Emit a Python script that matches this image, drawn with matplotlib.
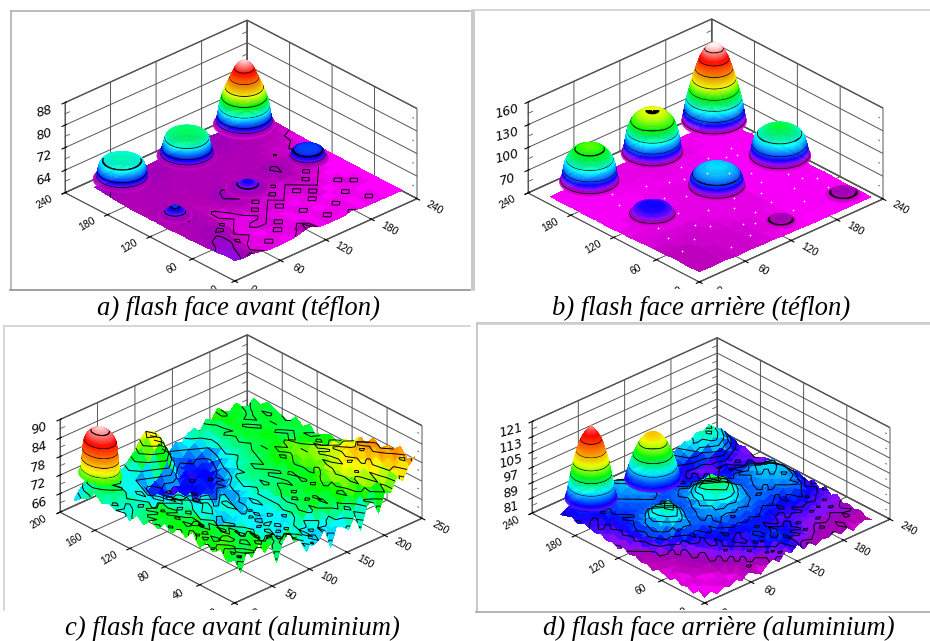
import numpy as np
import matplotlib.pyplot as plt
from matplotlib.colors import LinearSegmentedColormap, Normalize
from matplotlib.lines import Line2D
from mpl_toolkits.mplot3d import proj3d
from mpl_toolkits.mplot3d.art3d import Poly3DCollection

W, H = 930, 641

titles = ["a) flash face avant (téflon)", "b) flash face arrière (téflon)",
          "c) flash face avant (aluminium)", "d) flash face arrière (aluminium)"]

# floor of each map, rows go with y, columns with x
a_x = list(range(0, 221, 11))
a_y = list(range(0, 199, 11))
a_z = [
    [63.2, 62.8, 63.0, 62.4, 61.7, 61.6, 61.6, 61.8, 62.6, 63.2, 61.8, 61.6, 61.6, 61.5, 62.4, 61.6, 61.5, 61.5, 61.5, 61.4, 61.4],
    [63.4, 63.0, 62.6, 61.8, 61.6, 62.4, 61.6, 61.6, 61.7, 62.9, 61.7, 61.6, 62.4, 61.6, 61.5, 61.5, 61.6, 62.4, 61.5, 61.5, 61.4],
    [63.0, 63.3, 62.7, 62.2, 61.6, 61.6, 61.7, 62.4, 61.6, 61.6, 61.6, 61.5, 61.6, 61.6, 62.4, 61.5, 61.6, 61.5, 61.5, 61.4, 61.4],
    [62.8, 63.0, 63.2, 61.8, 62.4, 61.6, 61.6, 61.6, 62.4, 61.6, 61.6, 62.4, 61.6, 61.5, 61.6, 61.5, 62.4, 61.6, 61.5, 61.5, 61.4],
    [62.6, 62.9, 63.0, 62.5, 61.7, 61.6, 62.4, 62.4, 61.6, 61.7, 61.6, 61.6, 61.6, 62.4, 61.6, 61.6, 61.5, 61.6, 62.4, 61.5, 61.4],
    [62.5, 62.7, 62.8, 63.1, 62.4, 61.6, 61.6, 61.7, 62.4, 61.6, 62.4, 61.6, 61.7, 61.6, 62.4, 61.6, 61.6, 62.4, 61.5, 61.5, 61.4],
    [62.4, 62.6, 62.9, 62.7, 61.8, 62.4, 61.6, 62.4, 61.7, 62.4, 61.6, 62.4, 61.6, 62.4, 61.6, 62.4, 61.6, 61.5, 61.6, 61.5, 61.5],
    [62.4, 62.3, 62.7, 62.4, 62.5, 61.7, 62.0, 62.4, 62.4, 61.7, 62.4, 61.7, 62.4, 61.6, 62.4, 61.7, 62.4, 61.6, 61.5, 61.6, 61.5],
    [62.3, 62.5, 62.9, 62.6, 62.4, 61.8, 62.4, 62.5, 62.9, 62.4, 62.4, 62.5, 61.8, 62.4, 62.5, 62.4, 61.7, 62.4, 61.6, 61.5, 61.5],
    [62.2, 62.7, 63.2, 62.8, 62.4, 62.4, 62.6, 62.9, 63.1, 62.7, 62.4, 62.4, 62.5, 62.4, 62.9, 62.4, 62.4, 61.8, 62.4, 61.6, 61.5],
    [62.4, 63.0, 63.4, 62.6, 62.5, 62.0, 62.5, 62.8, 63.0, 62.5, 62.6, 62.4, 62.5, 62.7, 63.1, 62.6, 62.4, 62.4, 61.7, 61.8, 61.6],
    [62.3, 62.7, 62.8, 62.4, 62.4, 62.5, 62.4, 62.5, 62.6, 62.4, 62.5, 62.6, 62.4, 62.5, 62.6, 62.4, 62.5, 61.8, 62.4, 61.6, 61.6],
    [62.4, 62.3, 62.5, 62.5, 62.4, 62.5, 62.6, 62.4, 62.5, 62.6, 62.4, 62.5, 62.6, 62.4, 62.5, 62.4, 61.9, 62.4, 61.8, 61.8, 61.7],
    [62.3, 62.5, 62.4, 62.6, 62.5, 62.4, 62.5, 62.6, 62.4, 62.5, 62.6, 62.4, 62.5, 62.4, 62.4, 62.5, 62.4, 62.0, 62.4, 61.9, 61.8],
    [62.5, 62.4, 62.5, 62.4, 62.7, 62.5, 62.4, 62.5, 62.6, 62.5, 62.4, 62.6, 62.4, 62.5, 62.6, 62.4, 62.5, 62.4, 62.3, 62.0, 61.9],
    [62.6, 62.5, 62.6, 62.5, 62.5, 62.7, 62.6, 62.5, 62.6, 62.6, 62.7, 62.5, 62.6, 62.6, 62.7, 62.5, 62.6, 62.4, 62.5, 62.3, 62.1],
    [62.9, 62.6, 62.7, 62.5, 62.6, 62.8, 62.7, 62.6, 62.7, 62.8, 62.6, 62.7, 62.6, 62.8, 62.7, 62.6, 62.5, 62.6, 62.4, 62.5, 62.2],
    [63.2, 62.9, 62.7, 62.6, 62.7, 62.9, 62.8, 62.7, 62.8, 62.7, 62.8, 62.8, 62.7, 62.9, 62.8, 62.7, 62.8, 62.6, 62.7, 62.4, 62.4],
    [63.4, 63.0, 62.8, 62.7, 62.8, 63.0, 62.8, 62.7, 62.9, 62.8, 62.9, 63.0, 62.9, 62.8, 62.9, 62.8, 62.9, 62.7, 62.8, 62.6, 62.5],
]
b_x = list(range(0, 225, 16))
b_y = list(range(0, 215, 16))
b_z = [
    [54, 53, 54, 52, 53, 52, 52, 51, 51, 50, 50, 50, 50, 50, 50],
    [53, 54, 53, 53, 52, 53, 52, 51, 51, 51, 50, 50, 51, 50, 50],
    [54, 53, 54, 52, 53, 52, 52, 52, 51, 50, 51, 51, 50, 51, 50],
    [53, 54, 52, 53, 53, 52, 52, 51, 52, 51, 50, 51, 51, 50, 50],
    [53, 52, 53, 53, 52, 52, 51, 52, 51, 51, 51, 50, 51, 50, 51],
    [52, 52, 52, 51, 52, 51, 52, 51, 52, 51, 50, 51, 50, 51, 50],
    [51, 52, 51, 52, 51, 52, 51, 52, 51, 51, 51, 50, 51, 50, 51],
    [51, 51, 52, 51, 51, 51, 51, 51, 52, 51, 50, 51, 50, 51, 50],
    [50, 51, 51, 51, 51, 51, 52, 51, 51, 51, 51, 50, 51, 50, 50],
    [51, 50, 51, 50, 51, 51, 51, 51, 51, 51, 50, 51, 50, 51, 50],
    [50, 51, 50, 51, 51, 51, 51, 51, 51, 51, 51, 50, 51, 50, 51],
    [51, 50, 51, 51, 51, 51, 51, 52, 51, 51, 51, 51, 50, 51, 50],
    [50, 51, 51, 51, 51, 52, 51, 51, 51, 52, 51, 51, 51, 50, 51],
    [51, 51, 50, 51, 51, 51, 51, 51, 51, 51, 51, 51, 51, 51, 50],
]
c_x = list(range(0, 241, 8))
c_y = list(range(0, 185, 8))
c_z = [
    [74, 69, 75, 73, 76, 72, 74, 67, 73, 75, 71, 74, 66, 70, 68, 71, 64, 70, 69, 67, 71, 65, 72, 73, 68, 74, 73, 77, 75, 79, 81],
    [72, 75, 71, 74, 70, 76, 73, 75, 71, 72, 74, 70, 69, 71, 65, 70, 72, 68, 70, 71, 73, 70, 74, 71, 75, 76, 73, 78, 77, 81, 79],
    [75, 73, 76, 68, 74, 72, 75, 70, 73, 71, 69, 72, 68, 70, 71, 67, 69, 72, 70, 73, 71, 74, 72, 76, 74, 77, 75, 79, 80, 78, 82],
    [73, 76, 72, 75, 73, 70, 74, 72, 69, 71, 70, 67, 71, 69, 72, 70, 73, 71, 74, 72, 73, 75, 73, 77, 75, 78, 76, 80, 78, 82, 80],
    [75, 71, 74, 76, 72, 74, 71, 73, 70, 68, 71, 69, 67, 70, 68, 71, 74, 72, 75, 71, 74, 72, 75, 76, 78, 75, 79, 77, 81, 80, 79],
    [72, 75, 73, 70, 75, 72, 73, 69, 71, 70, 68, 71, 70, 66, 71, 69, 72, 73, 71, 74, 72, 75, 74, 77, 76, 79, 77, 81, 79, 82, 78],
    [76, 73, 75, 72, 74, 71, 72, 70, 72, 68, 70, 67, 69, 71, 68, 70, 73, 71, 74, 72, 75, 73, 76, 75, 78, 76, 80, 78, 82, 79, 80],
    [73, 75, 71, 74, 72, 73, 70, 72, 68, 70, 69, 71, 66, 69, 70, 68, 72, 74, 71, 73, 72, 74, 73, 75, 77, 74, 78, 79, 77, 80, 76],
    [75, 72, 74, 76, 70, 72, 71, 69, 70, 67, 70, 68, 71, 67, 70, 69, 71, 72, 74, 72, 73, 71, 75, 73, 76, 75, 79, 77, 78, 76, 78],
    [72, 74, 73, 71, 74, 69, 72, 70, 66, 69, 68, 70, 67, 69, 71, 68, 72, 70, 73, 71, 74, 72, 74, 76, 74, 77, 75, 78, 76, 77, 75],
    [74, 71, 75, 72, 73, 71, 70, 68, 70, 67, 69, 71, 68, 66, 70, 69, 71, 73, 70, 72, 73, 71, 75, 74, 76, 75, 77, 75, 76, 74, 75],
    [71, 74, 72, 74, 70, 73, 71, 69, 72, 70, 68, 71, 69, 67, 69, 70, 68, 72, 71, 73, 71, 74, 73, 75, 76, 74, 76, 75, 73, 75, 73],
    [73, 72, 75, 71, 73, 70, 72, 70, 68, 71, 69, 67, 70, 68, 66, 69, 71, 70, 72, 71, 73, 72, 75, 73, 76, 74, 75, 73, 75, 72, 74],
    [70, 73, 71, 74, 72, 71, 69, 71, 70, 68, 70, 69, 66, 69, 67, 68, 70, 72, 71, 73, 72, 74, 73, 75, 74, 76, 73, 74, 72, 74, 73],
    [72, 70, 73, 71, 73, 70, 72, 69, 71, 69, 67, 69, 68, 65, 68, 67, 69, 71, 70, 72, 71, 73, 72, 74, 73, 75, 72, 73, 74, 72, 71],
    [69, 72, 70, 72, 69, 71, 68, 70, 71, 68, 69, 66, 64, 66, 65, 67, 66, 68, 70, 71, 70, 72, 73, 72, 74, 72, 73, 71, 73, 72, 74],
    [71, 68, 71, 69, 71, 68, 70, 69, 67, 68, 65, 66, 63, 65, 66, 64, 67, 66, 69, 70, 72, 71, 73, 72, 73, 74, 72, 73, 71, 73, 72],
    [70, 71, 69, 72, 69, 70, 68, 69, 66, 67, 64, 65, 66, 63, 66, 65, 64, 67, 68, 70, 69, 72, 71, 73, 72, 74, 73, 71, 73, 72, 74],
    [71, 69, 72, 70, 68, 71, 69, 67, 65, 66, 63, 65, 64, 66, 64, 66, 65, 63, 66, 69, 71, 70, 73, 72, 74, 72, 73, 74, 72, 73, 71],
    [70, 72, 71, 73, 70, 69, 70, 68, 66, 64, 66, 63, 65, 64, 66, 63, 65, 66, 64, 67, 70, 72, 71, 74, 72, 73, 71, 73, 72, 74, 72],
    [72, 71, 74, 72, 71, 68, 70, 69, 67, 65, 67, 69, 72, 68, 64, 66, 64, 65, 66, 65, 69, 71, 73, 72, 74, 71, 73, 72, 74, 71, 73],
    [69, 73, 72, 74, 70, 71, 69, 70, 68, 70, 72, 75, 77, 74, 70, 66, 65, 67, 66, 67, 68, 71, 70, 73, 72, 74, 72, 71, 73, 72, 74],
    [68, 72, 74, 73, 71, 69, 71, 68, 70, 72, 75, 78, 79, 77, 73, 68, 67, 66, 68, 69, 70, 72, 71, 73, 75, 72, 74, 73, 71, 74, 72],
    [66, 69, 71, 70, 68, 70, 69, 71, 69, 71, 73, 76, 78, 75, 72, 69, 68, 70, 69, 71, 72, 70, 73, 72, 75, 73, 72, 74, 72, 71, 73],
]
d_x = list(range(0, 217, 8))
d_y = list(range(0, 201, 8))
d_z = [
    [76, 78, 75, 77, 76, 78, 76, 79, 77, 75, 78, 80, 77, 81, 79, 82, 78, 80, 77, 79, 78, 80, 77, 79, 76, 78, 79, 77],
    [78, 75, 77, 76, 79, 75, 78, 76, 80, 78, 76, 79, 82, 78, 80, 83, 80, 78, 80, 77, 79, 77, 78, 80, 78, 76, 78, 77],
    [75, 77, 76, 78, 75, 77, 76, 79, 77, 80, 79, 81, 78, 83, 81, 84, 80, 82, 79, 81, 78, 80, 76, 79, 78, 80, 77, 79],
    [77, 76, 78, 75, 78, 77, 79, 77, 80, 78, 82, 79, 84, 81, 85, 82, 83, 80, 82, 78, 80, 78, 81, 79, 77, 79, 80, 78],
    [76, 78, 76, 77, 76, 79, 77, 80, 78, 81, 79, 83, 80, 84, 82, 84, 81, 83, 80, 82, 79, 81, 78, 80, 79, 81, 78, 79],
    [78, 75, 77, 79, 77, 78, 80, 78, 82, 79, 83, 80, 82, 85, 81, 83, 82, 80, 83, 79, 81, 79, 82, 79, 81, 78, 80, 78],
    [76, 78, 76, 78, 79, 77, 79, 81, 79, 83, 81, 79, 83, 81, 84, 82, 80, 82, 79, 82, 80, 82, 79, 81, 78, 82, 79, 81],
    [77, 76, 79, 77, 78, 80, 78, 80, 82, 80, 84, 82, 80, 83, 81, 83, 81, 83, 81, 80, 83, 80, 83, 81, 83, 79, 81, 79],
    [78, 77, 76, 79, 78, 79, 81, 79, 82, 81, 83, 81, 84, 82, 84, 82, 84, 81, 83, 82, 80, 83, 81, 84, 80, 83, 80, 82],
    [76, 79, 78, 77, 80, 78, 81, 83, 80, 84, 82, 85, 83, 86, 83, 85, 83, 85, 82, 84, 81, 84, 82, 85, 83, 81, 83, 79],
    [78, 77, 79, 80, 78, 82, 80, 84, 82, 85, 83, 86, 85, 84, 86, 84, 86, 83, 85, 83, 85, 82, 85, 84, 86, 83, 80, 82],
    [77, 79, 78, 81, 83, 82, 86, 84, 85, 83, 86, 84, 87, 89, 87, 88, 85, 87, 84, 86, 84, 86, 84, 87, 85, 84, 82, 80],
    [79, 78, 80, 82, 84, 87, 85, 88, 86, 84, 85, 87, 86, 89, 91, 90, 89, 86, 85, 83, 86, 84, 87, 85, 88, 86, 83, 81],
    [78, 80, 79, 83, 86, 85, 89, 91, 88, 85, 83, 86, 89, 91, 90, 93, 91, 88, 86, 84, 85, 87, 85, 88, 86, 87, 84, 82],
    [80, 79, 82, 81, 85, 88, 90, 92, 91, 87, 84, 85, 87, 90, 93, 92, 94, 90, 87, 85, 83, 86, 88, 86, 89, 86, 85, 81],
    [78, 81, 80, 83, 84, 87, 91, 90, 92, 88, 85, 83, 86, 91, 92, 95, 92, 91, 86, 84, 85, 84, 86, 89, 87, 88, 84, 82],
    [80, 79, 82, 81, 85, 84, 88, 89, 87, 85, 83, 85, 84, 88, 90, 91, 89, 87, 85, 83, 84, 86, 85, 87, 85, 86, 83, 81],
    [79, 81, 80, 83, 82, 85, 84, 86, 84, 83, 85, 83, 86, 85, 87, 88, 86, 84, 83, 85, 82, 84, 83, 85, 84, 83, 82, 80],
    [81, 79, 82, 81, 84, 82, 85, 83, 85, 84, 82, 85, 84, 86, 84, 85, 83, 85, 82, 81, 83, 81, 84, 82, 83, 81, 80, 81],
    [80, 82, 80, 83, 82, 84, 83, 85, 84, 86, 85, 83, 85, 83, 84, 82, 84, 82, 83, 80, 81, 83, 80, 82, 80, 82, 79, 80],
    [81, 80, 83, 81, 84, 83, 85, 84, 86, 85, 87, 84, 83, 85, 82, 84, 81, 83, 80, 82, 79, 81, 83, 80, 82, 79, 81, 78],
    [82, 81, 80, 84, 82, 85, 84, 86, 85, 87, 86, 85, 84, 82, 84, 81, 83, 80, 82, 79, 81, 80, 78, 81, 79, 81, 80, 79],
    [80, 83, 82, 81, 85, 83, 86, 85, 87, 86, 88, 85, 83, 85, 82, 83, 81, 82, 80, 81, 79, 82, 84, 86, 83, 81, 80, 81],
    [82, 81, 84, 83, 82, 85, 84, 87, 86, 88, 87, 84, 86, 83, 84, 82, 84, 81, 83, 85, 87, 85, 88, 90, 88, 86, 82, 80],
    [81, 83, 82, 85, 84, 83, 86, 85, 88, 87, 85, 86, 84, 85, 83, 85, 83, 85, 84, 86, 88, 90, 89, 92, 90, 88, 85, 82],
    [80, 82, 84, 83, 85, 84, 85, 87, 86, 85, 84, 83, 85, 84, 86, 84, 86, 84, 85, 87, 89, 88, 91, 90, 92, 89, 87, 83],
]

# peaks: centre x, centre y, then radius and height going up the flank
a_peaks = [
    (197, 198, [30, 28, 27, 26, 25, 24, 22.5, 21, 19, 17, 15, 13, 11, 9, 6.5, 3.5, 0],
     [61.8, 62.5, 63.5, 65, 67, 69, 71, 72.5, 74.5, 76, 77.5, 79, 80.5, 82, 83.2, 84, 84.5]),
    (113, 189, [29, 26, 24.5, 23, 22, 20.5, 19, 16, 10, 0],
     [62, 63, 64.5, 66, 67.5, 69, 69.6, 70, 70.2, 70.4]),
    (36, 198, [28, 25, 24, 23, 21.5, 20, 17, 10, 0],
     [62, 63, 64.5, 66, 67.5, 68.2, 68.6, 69, 69.2]),
    (195, 106, [20, 17, 16, 14.5, 10, 0], [62, 63, 64.2, 65, 65.4, 65.6]),
    (112, 102, [22, 16, 10, 5, 0], [62, 62.7, 63.4, 64.2, 65]),
    (24, 110, [17, 12, 8, 4, 0], [62, 62.8, 64, 65, 65.5]),
]
b_peaks = [
    (216, 211, [31, 30, 29, 28, 26.5, 24.5, 22, 19.5, 17, 14, 10.5, 6, 0],
     [50, 56, 63, 70, 80, 90, 102, 113, 123, 134, 143, 150, 152]),
    (129, 204, [30, 28, 27, 26, 25, 23.5, 21.5, 19, 16, 13, 9, 5, 0],
     [51, 56, 63, 70, 78, 85, 92, 97, 101, 104, 106, 107, 107.5]),
    (47, 204, [29, 27, 26, 25, 24, 22, 19.5, 17, 14, 10, 5, 0],
     [51, 56, 63, 70, 76, 82, 87, 91, 94, 96.5, 98, 98.5]),
    (214, 117, [30, 28, 27, 25.5, 24, 21, 17, 12, 6, 0],
     [51, 56, 63, 70, 76, 81, 85, 88, 90, 91]),
    (129, 114, [28, 26, 25, 23, 20, 16, 10, 0],
     [51, 56, 63, 68, 72, 75, 76.5, 77]),
    (46, 115, [23, 21, 18, 12, 0], [51, 55, 60, 62.5, 64]),
    (127, 22, [15, 12, 6, 0], [51, 54, 55.5, 56]),
    (207, 20, [17, 13, 7, 0], [51, 54, 55.5, 56]),
]
c_peaks = [
    (21, 172, [19, 17, 16.5, 16, 15.5, 15, 14, 12, 9, 5, 0],
     [74, 75, 77, 79, 81, 83, 85, 86.5, 87.8, 88.5, 89.5]),
]
d_peaks = [
    (43, 204, [25, 23, 22, 20.5, 19, 17.5, 15.5, 13.5, 11.5, 9, 6, 3, 0],
     [80, 83, 86, 90, 94, 98, 102, 105.5, 109, 112, 114.5, 116.5, 118]),
    (112, 192, [27, 25, 23.5, 21.5, 19.5, 17, 14.5, 12, 9, 5, 0],
     [80, 83, 86, 89, 92, 95, 98, 100, 102, 103.5, 104.5]),
]

b_specks_x = [70, 95, 150, 180, 160, 100, 60, 130, 175, 200, 85, 40, 110, 150, 190, 30, 170, 75, 120, 205,
              15, 55, 90, 140, 165, 195, 25, 80, 105, 145, 185, 210, 65, 125, 155, 35, 95, 170, 45, 115]
b_specks_y = [60, 40, 75, 60, 160, 150, 70, 165, 150, 70, 20, 50, 70, 30, 160, 90, 110, 130, 50, 40,
              40, 15, 85, 140, 90, 85, 70, 160, 35, 55, 145, 60, 100, 85, 125, 150, 120, 35, 170, 145]
b_specks_z = [53, 53, 52, 52, 52, 53, 53, 52, 52, 52, 54, 54, 53, 52, 52, 53, 52, 53, 53, 52,
              54, 54, 52, 52, 52, 52, 53, 52, 53, 52, 52, 52, 53, 52, 52, 52, 52, 52, 52, 52]

a_ticks = [0, 60, 120, 180, 240]
c_xticks = [0, 50, 100, 150, 200, 250]
c_yticks = [0, 40, 80, 120, 160, 200]
a_zticks = [64, 72, 80, 88]
b_zticks = [70, 100, 130, 160]
c_zticks = [66, 72, 78, 84, 90]
d_zticks = [81, 89, 97, 105, 113, 121]

AZIM = -133

rainbow = LinearSegmentedColormap.from_list("rainbow_map", [
    (0, "#ff00ff"), (0.035, "#b400b4"), (0.055, "#a000b8"), (0.08, "#8a10ff"), (0.13, "#0000ff"),
    (0.28, "#00ffff"), (0.43, "#00ff00"), (0.56, "#ffff00"), (0.68, "#ff8c00"),
    (0.85, "#ff0000"), (1, "#ffffff")])

plt.rcParams["grid.color"] = "#555555"
plt.rcParams["grid.linewidth"] = 0.7
plt.rcParams["axes3d.grid"] = True


def to_px(ax, x, y, z):
    x2, y2, _ = proj3d.proj_transform(x, y, z, ax.get_proj())
    return ax.transData.transform((x2, y2))


def place(ax, xmax, ymax, zmin, left, right, front):
    # same box size as the picture, found from where the corners land
    size = 500
    ax.set_position([0, 0, size / W, size / H])
    ax.apply_aspect()
    pl = to_px(ax, 0, ymax, zmin)
    pr = to_px(ax, xmax, 0, zmin)
    pf = to_px(ax, 0, 0, zmin)
    s = (right - left) / (pr[0] - pl[0])
    ox = left - pl[0] * s
    oy = (H - front) - pf[1] * s
    ax.set_position([ox / W, oy / H, size * s / W, size * s / H])
    ax.apply_aspect()


def peaks_to_polys(peaks, norm, levels, thick):
    polys, colors = [], []
    angles = np.arange(0, 361, 6)
    for cx, cy, r, z in peaks:
        lines = list(z)
        for lev in levels:
            if z[0] < lev < z[-1]:
                lines += [lev - thick / 2, lev + thick / 2]
        lines += list(np.arange(z[0], z[-1], (norm.vmax - norm.vmin) / 80))
        lines = np.array(sorted(set(lines)))
        radii = np.interp(lines, z, r)
        for i in range(len(lines) - 1):
            mid = (lines[i] + lines[i + 1]) / 2
            black = any(abs(mid - lev) < thick / 2 for lev in levels)
            for j in range(len(angles) - 1):
                t0, t1 = np.radians(angles[j]), np.radians(angles[j + 1])
                # contour only on the side that faces the viewer
                off = abs((angles[j] + 3 - AZIM + 180) % 360 - 180)
                col = (0, 0, 0, 1) if black and off < 105 else rainbow(norm(mid))
                polys.append([
                    (cx + radii[i] * np.cos(t0), cy + radii[i] * np.sin(t0), lines[i]),
                    (cx + radii[i] * np.cos(t1), cy + radii[i] * np.sin(t1), lines[i]),
                    (cx + radii[i + 1] * np.cos(t1), cy + radii[i + 1] * np.sin(t1), lines[i + 1]),
                    (cx + radii[i + 1] * np.cos(t0), cy + radii[i + 1] * np.sin(t0), lines[i + 1]),
                ])
                colors.append(col)
    return polys, colors


def minor_ticks(ax, xlim, ylim, zticks):
    # short inward marks half way between the z ticks, on the three standing edges
    step = zticks[1] - zticks[0]
    half = [t - step / 2 for t in zticks]
    dx = xlim[1] * 0.025
    dy = ylim[1] * 0.025
    for t in half:
        ax.plot([0, dx], [ylim[1], ylim[1]], [t, t], color="#555555", linewidth=0.6, zorder=0.5)
        ax.plot([xlim[1], xlim[1]], [0, dy], [t, t], color="#555555", linewidth=0.6, zorder=0.5)
        ax.plot([xlim[1], xlim[1] - dx], [ylim[1], ylim[1]], [t, t], color="#555555", linewidth=0.6, zorder=0.5)


def tick_label(ax, x, y, z, s, rot, size, style, family, clip_y):
    px, py = to_px(ax, x, y, z)
    lab = fig.text(px / W, py / H, s, rotation=rot, rotation_mode="anchor", ha="center", va="center",
                   fontsize=size, style=style, family=family, clip_on=True)
    lab.set_clip_box(fig.bbox)
    if py > H - clip_y:
        return lab
    # the zero labels are cut by the frame line in the picture
    lab.set_clip_path(plt.Rectangle((0, H - clip_y), W, clip_y, transform=None))
    return lab


def draw_map(sub, x, y, z, peaks, xlim, ylim, zlim, xticks, yticks, zticks, vmin, vmax,
             floor_levels, peak_levels, thick, box, clip_y):
    ax = fig.add_subplot(sub, projection="3d", proj_type="ortho", computed_zorder=False)
    ax.view_init(elev=29, azim=AZIM)
    ax.set_box_aspect((249, 249, 103))
    ax.set_xlim(*xlim, view_margin=0)
    ax.set_ylim(*ylim, view_margin=0)
    ax.set_zlim(*zlim, view_margin=0)
    ax.patch.set_alpha(0)
    ax.set_xticks(xticks)
    ax.set_yticks(yticks)
    ax.set_zticks([t for t in zticks] + [zticks[0] - (zticks[1] - zticks[0])])
    for axis in (ax.xaxis, ax.yaxis, ax.zaxis):
        axis.set_pane_color((1, 1, 1, 1))
        axis.pane.set_edgecolor("#555555")
        axis.line.set_color("#555555")
        axis.line.set_linewidth(0.7)
        for tick in axis.get_major_ticks():
            tick.label1.set_visible(False)

    norm = Normalize(vmin, vmax)
    X, Y = np.meshgrid(x, y)
    Z = np.array(z, dtype=float)
    ax.plot_surface(X, Y, Z, cmap=rainbow, norm=norm, rstride=1, cstride=1, shade=False,
                    linewidth=0, antialiased=False, zorder=1)
    if floor_levels:
        ax.contour(X, Y, Z, levels=floor_levels, colors="k", linewidths=0.7, zorder=2)

    polys, colors = peaks_to_polys(peaks, norm, peak_levels, thick)
    if polys:
        pc = Poly3DCollection(polys, facecolors=colors, edgecolors=colors, linewidths=0.2, zsort="average")
        pc.set_zorder(3)
        ax.add_collection3d(pc)

    minor_ticks(ax, xlim, ylim, zticks)
    ax.set_xlim(*xlim, view_margin=0)
    ax.set_ylim(*ylim, view_margin=0)
    ax.set_zlim(*zlim, view_margin=0)
    place(ax, xlim[1], ylim[1], zlim[0], *box)

    dx = 27 / 240 * xlim[1]
    dy = 25 / 240 * ylim[1]
    for t in xticks:
        tick_label(ax, t, -dy, zlim[0], str(t), -30, 7.5, "normal", "Liberation Sans", clip_y)
    for t in yticks:
        tick_label(ax, -dx, t, zlim[0], str(t), 30, 7.5, "normal", "Liberation Sans", clip_y)
    for t in zticks:
        tick_label(ax, -dx, ylim[1], t, str(t), 15, 9, "italic", "DejaVu Sans", clip_y)
    return ax


def frame_line(x0, y0, x1, y1, color):
    fig.add_artist(Line2D([x0 / W, x1 / W], [1 - y0 / H, 1 - y1 / H], transform=fig.transFigure,
                          color=color, linewidth=1.2))


fig = plt.figure(figsize=(W / 100, H / 100), dpi=100)

frame_line(11, 11, 11, 289, "#b0b0b0")
frame_line(11, 11, 470, 11, "#b0b0b0")
frame_line(10, 290, 470, 290, "#909090")
frame_line(472, 10, 472, 290, "#c0c0c0")
frame_line(474, 10, 474, 290, "#c0c0c0")
frame_line(474, 10, 930, 10, "#d0d0d0")
frame_line(477, 323, 930, 323, "#c0c0c0")
frame_line(4, 326, 470, 326, "#d0d0d0")
frame_line(4, 326, 4, 610, "#d0d0d0")
frame_line(477, 324, 930, 324, "#d0d0d0")
frame_line(477, 324, 477, 612, "#c0c0c0")
frame_line(476, 612, 930, 612, "#a8a8a8")

ax_a = draw_map(221, a_x, a_y, a_z, a_peaks, (0, 240), (0, 240), (56, 88), a_ticks, a_ticks, a_zticks,
                61.5, 85, [62.0, 62.9], [63.4, 65, 68.4, 71.7, 75, 78.4, 81.7], 0.22,
                (65, 417, 281), 289)
ax_b = draw_map(222, b_x, b_y, b_z, b_peaks, (0, 240), (0, 240), (40, 160), a_ticks, a_ticks, b_zticks,
                50, 152, [], [54, 68, 81, 94, 107, 120, 133, 146], 0.8,
                (528, 883, 282), 289)
ax_c = draw_map(223, c_x, c_y, c_z, c_peaks, (0, 250), (0, 200), (60, 90), c_xticks, c_yticks, c_zticks,
                61, 90, [64, 66, 68, 70, 72, 74, 76, 78, 80], [76, 79, 82, 85, 88], 0.2,
                (60, 422, 603), 610)
ax_d = draw_map(224, d_x, d_y, d_z, d_peaks, (0, 240), (0, 240), (73, 121), a_ticks, a_ticks, d_zticks,
                76, 121, [79, 81, 83, 85, 87, 89, 91], [87, 93, 99, 105, 111], 0.3,
                (532, 890, 603), 610)
ax_b.scatter(b_specks_x, b_specks_y, b_specks_z, s=1.5, c="white", depthshade=False, zorder=4, linewidths=0)

title_pos = [(238, 308), (701, 308), (232, 628), (719, 628)]
for t, (tx, ty) in zip(titles, title_pos):
    fig.text(tx / W, 1 - ty / H, t, ha="center", va="center", fontsize=19.2, style="italic",
             family="Liberation Serif")

plt.savefig("out.png", dpi=100)
